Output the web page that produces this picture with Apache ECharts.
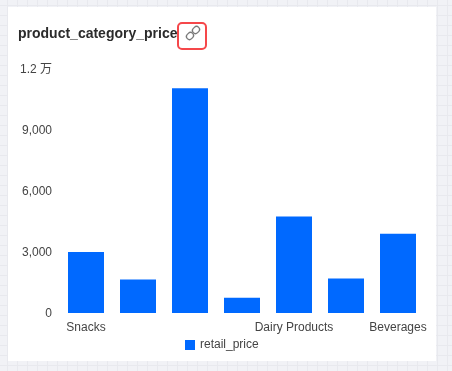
<!DOCTYPE html>
<html>
<head>
<meta charset="utf-8">
<style>
html, body { margin:0; padding:0; width:452px; height:371px; overflow:hidden; }
body {
    background-color:#f1f2f6;
    background-image:linear-gradient(#e8e9ee 1px, transparent 1px), linear-gradient(90deg, #e8e9ee 1px, transparent 1px);
    background-size:10px 10px;
    background-position:7px 5px;
}
#card { position:absolute; left:8px; top:7px; width:428px; height:354px; background:#fff; }
#chart { position:absolute; left:0; top:0; width:452px; height:371px; }
</style>
<script src="https://cdn.jsdelivr.net/npm/echarts@6/dist/echarts.min.js"></script>
</head>
<body>
<div id="card"></div>
<div id="chart"></div>
<script>
// hidden category names can't be read off the picture, left blank
var categories = ['Snacks', '', '', '', 'Dairy Products', '', 'Beverages'];
var retail_price = [3000, 1650, 11050, 750, 4750, 1700, 3900];
var y_ticks = { 0:'0', 3000:'3,000', 6000:'6,000', 9000:'9,000', 12000:'1.2 万' };
var series_name = 'retail_price';
var chart_title = 'product_category_price';

var font = '"Liberation Sans", Arial, sans-serif';
var myChart = echarts.init(document.querySelector('#chart'), null, {renderer:'canvas'});

var option = {
    animation:false,
    backgroundColor:'transparent',
    title:{
        text:chart_title,
        left:18,
        top:26,
        padding:0,
        textStyle:{fontSize:14, fontWeight:'bold', fontFamily:font, color:'#2b2b2b', lineHeight:17},
    },
    grid:{left:60, right:28, top:69, bottom:58},
    legend:{
        data:[series_name],
        left:185,
        top:339,
        padding:[0,0,0,0],
        itemWidth:10,
        itemHeight:10,
        itemGap:5,
        icon:'rect',
        textStyle:{fontSize:12, fontFamily:font, color:'#444'},
    },
    xAxis:{
        type:'category',
        data:categories,
        axisLine:{show:false},
        axisTick:{show:false},
        axisLabel:{interval:0, fontSize:12, fontFamily:font, color:'#444', margin:9},
    },
    yAxis:{
        type:'value',
        min:0,
        max:12000,
        interval:3000,
        axisLine:{show:false},
        axisTick:{show:false},
        splitLine:{show:false},
        axisLabel:{
            fontSize:12,
            fontFamily:'"Liberation Sans", "Noto Sans CJK SC", sans-serif',
            color:'#444',
            margin:8,
            verticalAlign:'top',
            padding:[-5,0,0,0],
            formatter:function(v){ return y_ticks[v]; },
        },
    },
    color:['#0069ff'],
    series:[{
        name:series_name,
        type:'bar',
        data:retail_price,
        barWidth:36,
    }],
    graphic:[
        {type:'rect', shape:{x:178, y:23, width:28, height:26, r:4},
         style:{fill:'#fff', stroke:'#f5474a', lineWidth:2}},
        {type:'group', x:193, y:33, rotation:Math.PI/4, children:[
            {type:'rect', shape:{x:-8, y:-3, width:7.5, height:6, r:3},
             style:{fill:'none', stroke:'#7a7a7a', lineWidth:1.3}},
            {type:'rect', shape:{x:0.5, y:-3, width:7.5, height:6, r:3},
             style:{fill:'none', stroke:'#7a7a7a', lineWidth:1.3}},
        ]},
    ],
};
myChart.setOption(option);
</script>
</body>
</html>
